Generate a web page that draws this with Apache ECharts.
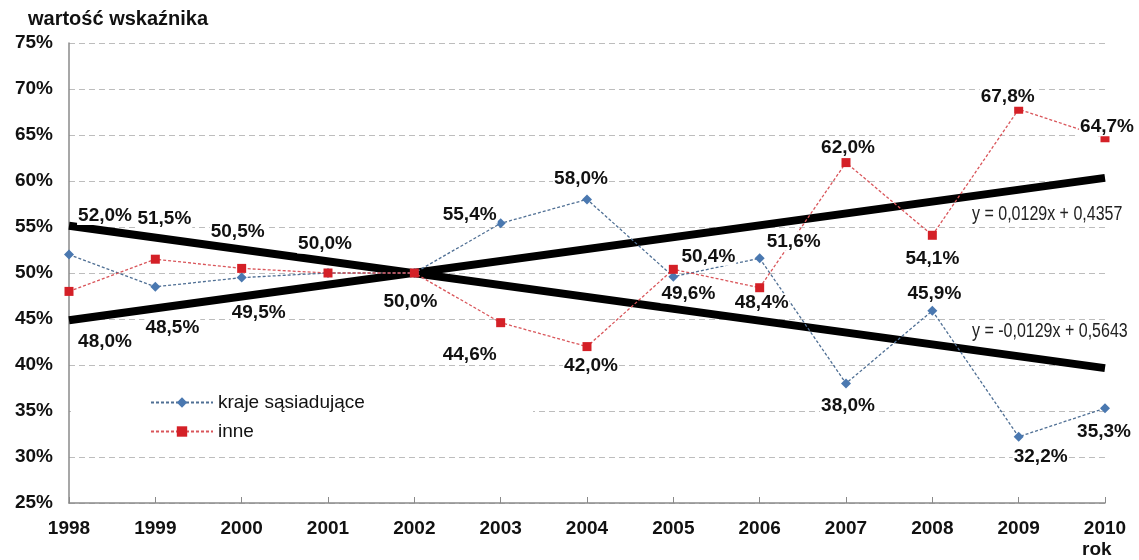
<!DOCTYPE html>
<html><head><meta charset="utf-8">
<script src="https://cdn.jsdelivr.net/npm/echarts@6/dist/echarts.min.js"></script>
<style>html,body{margin:0;padding:0;background:#fff}#c{width:1139px;height:560px}</style>
</head><body><div id="c"></div>
<script>
// ---- data ----
const years = ['1998','1999','2000','2001','2002','2003','2004','2005','2006','2007','2008','2009','2010'];
const neighbours = [52.0, 48.5, 49.5, 50.0, 50.0, 55.4, 58.0, 49.6, 51.6, 38.0, 45.9, 32.2, 35.3];
const others     = [48.0, 51.5, 50.5, 50.0, 50.0, 44.6, 42.0, 50.4, 48.4, 62.0, 54.1, 67.8, 64.7];
// linear trend lines, values at 1998 and 2010 (as shown by the equations)
const trendUp   = [44.86, 60.34];
const trendDown = [55.14, 39.66];
const trendUpText   = 'y = 0,0129x + 0,4357';
const trendDownText = 'y = -0,0129x + 0,5643';
const seriesNames = ['kraje sąsiadujące', 'inne'];

// ---- label placement (layout only) ----
const neighboursLabelOffset = [[36,-39],[17,41],[17,35],null,[-4,29],[-31,-9],[-6,-21],[15,17],[34,-17],[2,22],[2,-17],[22,20],[-1,24]];
const othersLabelOffset     = [[36,50],[9,-40],[-4,-37],[-3,-29],null,[-31,32],[4,19],[35,-13],[2,15],[2,-15],[0,23],[-11,-12],[2,-11]];

const FONT = "'Liberation Sans', Arial, sans-serif";
const fmt = v => v.toFixed(1).replace('.', ',') + '%';

function withLabels(values, offsets) {
  return values.map((v, i) => ({
    value: v,
    label: offsets[i] ? { show: true, offset: offsets[i] } : { show: false }
  }));
}
const labelStyle = {
  show: true, position: 'inside', color: '#111', fontFamily: FONT, fontWeight: 'bold',
  fontSize: 19, backgroundColor: '#fff', padding: [0, 1],
  formatter: p => fmt(p.value)
};

const chart = echarts.init(document.getElementById('c'), null, { renderer: 'canvas' });
chart.setOption({
  animation: false,
  backgroundColor: '#fff',
  grid: { left: 69, right: 34, top: 43, bottom: 57 },
  xAxis: {
    type: 'category', data: years, boundaryGap: false,
    axisLine: { lineStyle: { color: '#8a8a8a', width: 1.5 } },
    axisTick: { inside: true, length: 6, lineStyle: { color: '#8a8a8a' } },
    axisLabel: { margin: 16, color: '#111', fontFamily: FONT, fontWeight: 'bold', fontSize: 19 },
    splitLine: { show: false }
  },
  yAxis: {
    type: 'value', min: 25, max: 75, interval: 5,
    axisLine: { show: true, lineStyle: { color: '#8a8a8a', width: 1.5 } },
    axisTick: { show: false },
    axisLabel: { margin: 16, color: '#111', fontFamily: FONT, fontWeight: 'bold', fontSize: 19, formatter: '{value}%' },
    splitLine: { show: true, lineStyle: { color: '#bdbdbd', type: [6, 4], width: 1 } }
  },
  legend: {
    data: seriesNames, orient: 'vertical', left: 145, top: 388,
    itemWidth: 62, itemHeight: 13, itemGap: 10,
    textStyle: { fontFamily: FONT, fontSize: 19, color: '#111' }
  },
  graphic: [
    { type: 'rect', left: 71, top: 386, shape: { width: 462, height: 56 }, style: { fill: '#fff' }, z: 1 },
    { type: 'text', left: 28, top: 9, style: { text: 'wartość wskaźnika', fontFamily: 'Liberation Sans', fontWeight: 'bold', fontSize: 20, fill: '#111' } },
    { type: 'text', left: 1082, top: 540, style: { text: 'rok', fontFamily: 'Liberation Sans', fontWeight: 'bold', fontSize: 19, fill: '#111' } },
    { type: 'text', x: 972, y: 204, scaleX: 0.8, style: { text: trendUpText, x: 0, y: 0, verticalAlign: 'top', fontFamily: 'Liberation Sans', fontSize: 20, fill: '#222' } },
    { type: 'text', x: 972, y: 321, scaleX: 0.8, style: { text: trendDownText, x: 0, y: 0, verticalAlign: 'top', fontFamily: 'Liberation Sans', fontSize: 20, fill: '#222' } }
  ],
  series: [
    {
      name: 'trendUp', type: 'line', z: 1, silent: true, symbol: 'none',
      data: [[years[0], trendUp[0]], [years[years.length - 1], trendUp[1]]],
      lineStyle: { color: '#000', width: 8 }
    },
    {
      name: 'trendDown', type: 'line', z: 1, silent: true, symbol: 'none',
      data: [[years[0], trendDown[0]], [years[years.length - 1], trendDown[1]]],
      lineStyle: { color: '#000', width: 8 }
    },
    {
      name: seriesNames[0], type: 'line', z: 3,
      data: withLabels(neighbours, neighboursLabelOffset),
      symbol: 'diamond', symbolSize: 10,
      itemStyle: { color: '#4a78b0' },
      lineStyle: { color: '#4f6f94', width: 1.3, type: [3, 2] },
      label: labelStyle
    },
    {
      name: seriesNames[1], type: 'line', z: 3,
      data: withLabels(others, othersLabelOffset),
      symbol: 'rect', symbolSize: 9,
      itemStyle: { color: '#d42027' },
      lineStyle: { color: '#d9555a', width: 1.3, type: [3, 2] },
      label: labelStyle
    }
  ]
});
</script>
</body></html>
